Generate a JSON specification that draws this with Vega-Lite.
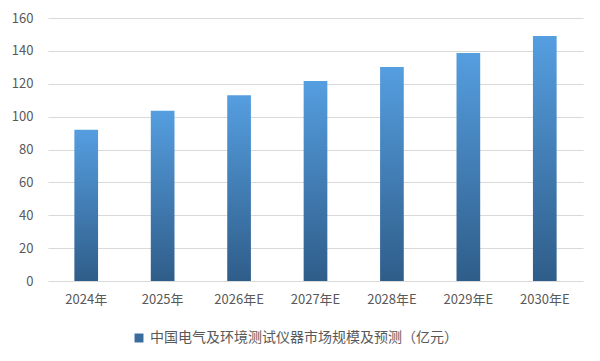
{
  "$schema": "https://vega.github.io/schema/vega-lite/v6.json",
  "width": 535,
  "height": 263,
  "autosize": {"type": "none"},
  "padding": {"left": 48, "top": 18, "right": 17, "bottom": 80},
  "background": "white",
  "config": {
    "view": {"stroke": null},
    "font": "Noto Sans CJK SC",
    "axis": {"labelColor": "#595959", "labelFontSize": 13, "domain": false, "ticks": false, "gridColor": "#d9d9d9", "title": null}
  },
  "data": {"values": [
    {"year": "2024年", "value": 92, "series": "中国电气及环境测试仪器市场规模及预测（亿元）"},
    {"year": "2025年", "value": 103.5, "series": "中国电气及环境测试仪器市场规模及预测（亿元）"},
    {"year": "2026年E", "value": 113, "series": "中国电气及环境测试仪器市场规模及预测（亿元）"},
    {"year": "2027年E", "value": 121.7, "series": "中国电气及环境测试仪器市场规模及预测（亿元）"},
    {"year": "2028年E", "value": 130.2, "series": "中国电气及环境测试仪器市场规模及预测（亿元）"},
    {"year": "2029年E", "value": 138.7, "series": "中国电气及环境测试仪器市场规模及预测（亿元）"},
    {"year": "2030年E", "value": 149, "series": "中国电气及环境测试仪器市场规模及预测（亿元）"}
  ]},
  "encoding": {
    "x": {"field": "year", "type": "nominal", "sort": null,
      "scale": {"paddingInner": 0.69, "paddingOuter": 0.345},
      "axis": {"labelAngle": 0, "labelPadding": 12, "grid": false}},
    "y": {"field": "value", "type": "quantitative",
      "scale": {"domain": [0, 160], "nice": false},
      "axis": {"values": [0, 20, 40, 60, 80, 100, 120, 140, 160], "labelPadding": 15, "grid": true}}
  },
  "layer": [
    {
      "mark": {"type": "bar", "fill": {"gradient": "linear", "x1": 0, "y1": 0, "x2": 0, "y2": 1,
        "stops": [{"offset": 0, "color": "#559ee0"}, {"offset": 1, "color": "#2f5d89"}]}}
    },
    {
      "mark": {"type": "bar", "opacity": 0},
      "encoding": {
        "color": {"field": "series", "type": "nominal", "scale": {"range": ["#3a6d9e"]},
          "legend": {"title": null, "orient": "none", "legendX": 84, "legendY": 313, "symbolType": "square", "symbolSize": 80, "symbolOpacity": 1, "symbolStrokeWidth": 0, "labelFontSize": 14, "labelColor": "#595959", "labelLimit": 500}}
      }
    }
  ]
}
